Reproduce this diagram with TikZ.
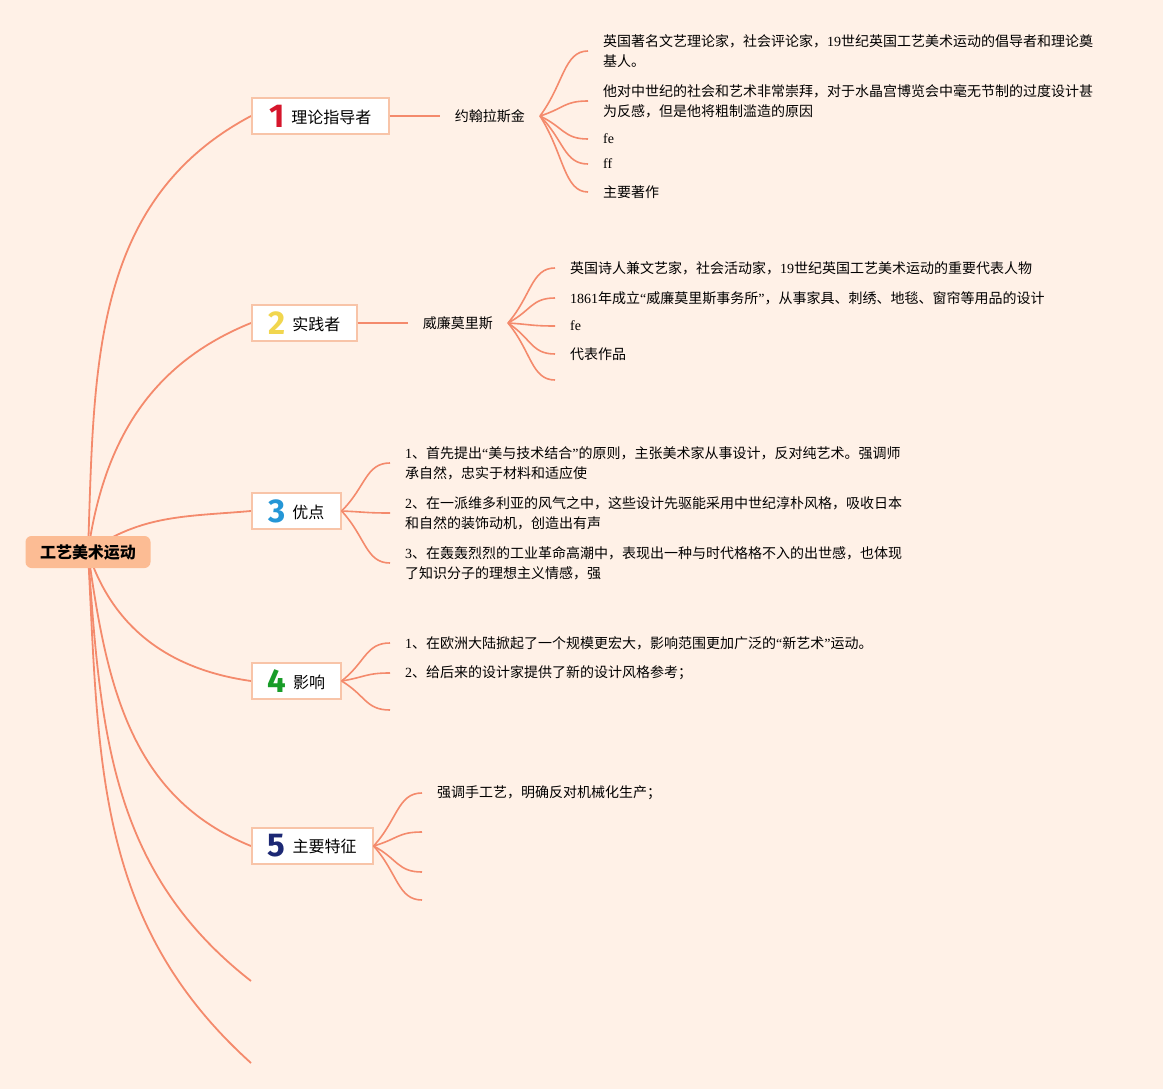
\documentclass[tikz,border=0pt]{standalone}
\usepackage{fontspec}
\setmainfont{Noto Sans CJK SC}
\newfontfamily\lat{Liberation Serif}
\newfontfamily\numf{Fira Sans}
\usetikzlibrary{positioning,calc}
\definecolor{bgpeach}{RGB}{255,241,231}
\definecolor{rootfill}{RGB}{252,188,148}
\definecolor{linesal}{RGB}{244,138,108}
\definecolor{boxline}{RGB}{248,196,168}
\definecolor{numred}{RGB}{214,22,44}
\definecolor{numyel}{RGB}{241,214,78}
\definecolor{numblu}{RGB}{36,150,214}
\definecolor{numgrn}{RGB}{24,156,40}
\definecolor{numnav}{RGB}{28,40,116}
\newcommand\en[1]{{\lat #1}}
\newcommand\bnum[3]{{\numf\bfseries\fontsize{33}{33}\selectfont\color{#1}#2}\hspace{7pt}\raisebox{4pt}{#3}}
\pgfdeclarelayer{under}
\pgfdeclarelayer{edges}
\pgfsetlayers{under,edges,main}

\begin{document}
\begin{tikzpicture}[x=1pt,y=1pt,font=\fontsize{14}{20}\selectfont,
    root/.style={fill=rootfill,rounded corners=6pt,minimum width=125pt,minimum height=32pt,
                 font=\fontsize{16}{16}\selectfont\bfseries},
    b/.style={draw=boxline,line width=1.6pt,fill=white,minimum height=36pt,anchor=west,
              inner ysep=0pt,font=\fontsize{16}{16}\selectfont},
    lab/.style={inner xsep=15pt},
    t/.style={anchor=west,inner xsep=15pt,inner ysep=0pt,align=left},
    br/.style={linesal,line width=1.8pt},
    fan/.style={linesal,line width=1.6pt,
                to path={.. controls ($(\tikztostart)!0.5!(\tikztotarget)$)
                         and ($(\tikztotarget)!0.5!(\tikztostart |- \tikztotarget)$) .. (\tikztotarget)}}]
  \begin{pgfonlayer}{under}
    \fill[bgpeach] (0,0) rectangle (1163,-1089);
  \end{pgfonlayer}
  \useasboundingbox (0,0) rectangle (1163,-1089);

  \node[root] (root) at (88,-552) {工艺美术运动};

  \node[b,minimum width=137pt] (b1) at (251,-116) {\bnum{numred}{1}{理论指导者}};
  \node[b,minimum width=105pt] (b2) at (251,-323) {\bnum{numyel}{2}{实践者}};
  \node[b,minimum width=89pt]  (b3) at (251,-511) {\bnum{numblu}{3}{优点}};
  \node[b,minimum width=89pt]  (b4) at (251,-681) {\bnum{numgrn}{4}{影响}};
  \node[b,minimum width=121pt] (b5) at (251,-846) {\bnum{numnav}{5}{主要特征}};
  \coordinate (e1) at (251,-981);
  \coordinate (e2) at (251,-1063);

  \node[lab,right=50pt of b1] (ruskin) {约翰拉斯金};
  \node[lab,right=50pt of b2] (morris) {威廉莫里斯};

  \node[t] (c11) at (588,-51) {英国著名文艺理论家，社会评论家，\en{19}世纪英国工艺美术运动的倡导者和理论奠\\基人。};
  \node[t] (c12) at (588,-101) {他对中世纪的社会和艺术非常崇拜，对于水晶宫博览会中毫无节制的过度设计甚\\为反感，但是他将粗制滥造的原因};
  \node[t] (c13) at (588,-139) {\en{fe}};
  \node[t] (c14) at (588,-164) {\en{ff}};
  \node[t] (c15) at (588,-192) {主要著作};

  \node[t] (c21) at (555,-268) {英国诗人兼文艺家，社会活动家，\en{19}世纪英国工艺美术运动的重要代表人物};
  \node[t] (c22) at (555,-298) {\en{1861}年成立\en{“}威廉莫里斯事务所\en{”}，从事家具、刺绣、地毯、窗帘等用品的设计};
  \node[t] (c23) at (555,-326) {\en{fe}};
  \node[t] (c24) at (555,-354) {代表作品};
  \node[t] (c25) at (555,-380) {};

  \node[t] (c31) at (390,-463) {\en{1}、首先提出\en{“}美与技术结合\en{”}的原则，主张美术家从事设计，反对纯艺术。强调师\\承自然，忠实于材料和适应使};
  \node[t] (c32) at (390,-513) {\en{2}、在一派维多利亚的风气之中，这些设计先驱能采用中世纪淳朴风格，吸收日本\\和自然的装饰动机，创造出有声};
  \node[t] (c33) at (390,-563) {\en{3}、在轰轰烈烈的工业革命高潮中，表现出一种与时代格格不入的出世感，也体现\\了知识分子的理想主义情感，强};

  \node[t] (c41) at (390,-643) {\en{1}、在欧洲大陆掀起了一个规模更宏大，影响范围更加广泛的\en{“}新艺术\en{”}运动。};
  \node[t] (c42) at (390,-673) {\en{2}、给后来的设计家提供了新的设计风格参考；};
  \node[t] (c43) at (390,-710) {};

  \node[t] (c51) at (422,-793) {强调手工艺，明确反对机械化生产；};
  \node[t] (c52) at (422,-832) {};
  \node[t] (c53) at (422,-872) {};
  \node[t] (c54) at (422,-900) {};

  \begin{pgfonlayer}{edges}
    \draw[br] (root.center) to[out=88,in=208] (b1.west);
    \draw[br] (root.center) to[out=82,in=202] (b2.west);
    \draw[br] (root.center) to[out=35,in=185] (b3.west);
    \draw[br] (root.center) to[out=-72,in=172] (b4.west);
    \draw[br] (root.center) to[out=-82,in=158] (b5.west);
    \draw[br] (root.center) to[out=-86,in=142] (e1);
    \draw[br] (root.center) to[out=-87,in=138] (e2);
  \end{pgfonlayer}

  \draw[br] (b1.east) -- (ruskin.west);
  \draw[br] (b2.east) -- (morris.west);
  \foreach \c in {c11,c12,c13,c14,c15}
    \draw[fan] (ruskin.east) to (\c.west);
  \foreach \c in {c21,c22,c23,c24,c25}
    \draw[fan] (morris.east) to (\c.west);
  \foreach \c in {c31,c32,c33}
    \draw[fan] (b3.east) to (\c.west);
  \foreach \c in {c41,c42,c43}
    \draw[fan] (b4.east) to (\c.west);
  \foreach \c in {c51,c52,c53,c54}
    \draw[fan] (b5.east) to (\c.west);
\end{tikzpicture}
\end{document}
